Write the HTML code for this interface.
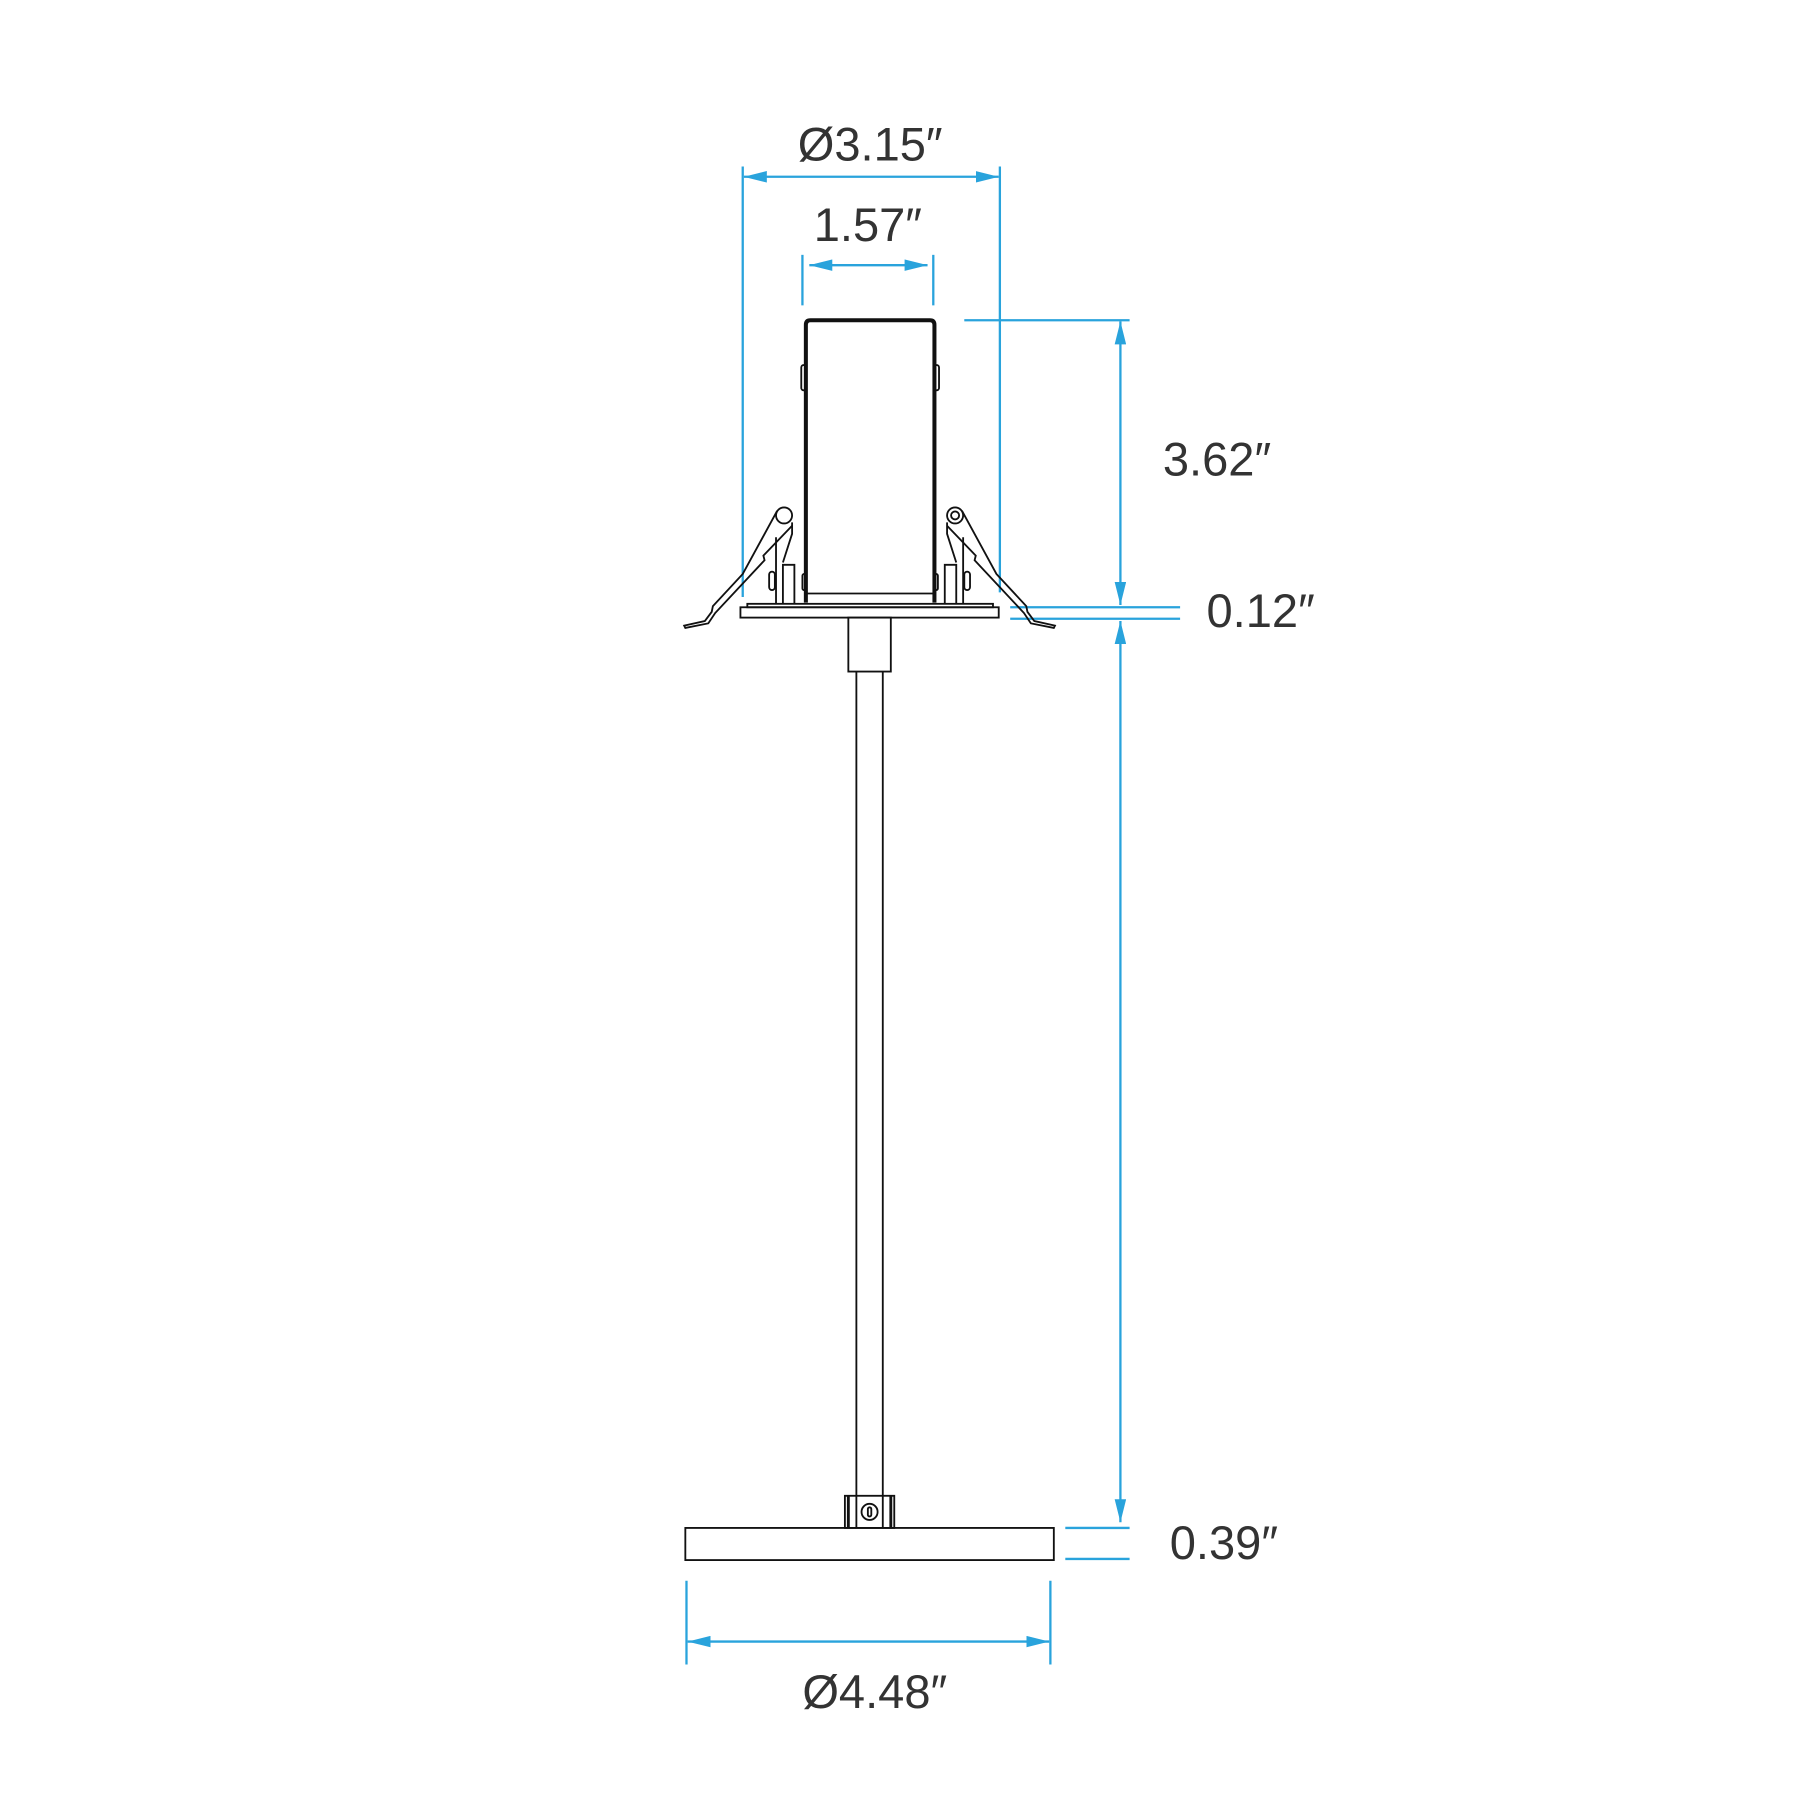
<!DOCTYPE html>
<html><head><meta charset="utf-8"><style>
html,body{margin:0;padding:0;background:#fff;}
svg{display:block;}
text{font-family:"Liberation Sans",sans-serif;font-size:41px;fill:#333;}
</style></head><body>
<svg width="1800" height="1800" viewBox="0 0 1568 1568" xmlns="http://www.w3.org/2000/svg">
<defs>
<marker id="a" viewBox="0 0 20 10" refX="20" refY="5" markerWidth="20" markerHeight="10" markerUnits="userSpaceOnUse" orient="auto-start-reverse"><path d="M0,0 L20,5 L0,10 Z" fill="#29a3dc"/></marker>
</defs>
<g stroke="#29a3dc" stroke-width="2" fill="none">
<line x1="647" y1="145" x2="647" y2="520"/>
<line x1="871" y1="145" x2="871" y2="516"/>
<line x1="648" y1="154" x2="870" y2="154" marker-start="url(#a)" marker-end="url(#a)"/>
<line x1="699" y1="222" x2="699" y2="266"/>
<line x1="813" y1="222" x2="813" y2="266"/>
<line x1="705" y1="231" x2="808" y2="231" marker-start="url(#a)" marker-end="url(#a)"/>
<line x1="840" y1="279" x2="984" y2="279"/>
<line x1="976" y1="280" x2="976" y2="527" marker-start="url(#a)" marker-end="url(#a)"/>
<line x1="880" y1="529" x2="1028" y2="529"/>
<line x1="880" y1="539" x2="1028" y2="539"/>
<line x1="976" y1="541" x2="976" y2="1326" marker-start="url(#a)" marker-end="url(#a)"/>
<line x1="928" y1="1331" x2="984" y2="1331"/>
<line x1="928" y1="1358" x2="984" y2="1358"/>
<line x1="598" y1="1377" x2="598" y2="1450"/>
<line x1="915" y1="1377" x2="915" y2="1450"/>
<line x1="599" y1="1430" x2="914" y2="1430" marker-start="url(#a)" marker-end="url(#a)"/>
</g>
<g stroke="#111" fill="none" stroke-width="1.6">
<!-- body -->
<path d="M702,525 L702,283 Q702,279 706,279 L810,279 Q814,279 814,283 L814,525" stroke-width="3.5"/>
<line x1="703" y1="517" x2="813" y2="517"/>
<rect x="698" y="318" width="4" height="22" rx="2"/>
<rect x="814" y="318" width="4" height="22" rx="2"/>
<rect x="699" y="500" width="3" height="14" rx="1.5"/>
<rect x="814" y="500" width="3" height="14" rx="1.5"/>
<!-- flange -->
<rect x="651" y="526" width="214" height="3"/>
<rect x="645" y="529" width="225" height="9"/>
<!-- left clip -->
<circle cx="683" cy="449" r="7"/>
<path d="M677,445 L647,500 L621,528 L620,533 L614,541 L596,545 L597,547 L617,543 L623,534 L666,488 L665,484 L690,458"/>
<path d="M676,468 L676,526 M682,526 L682,492 L692,492 L692,526 M690,455 L690,465 L682,490"/>
<rect x="670" y="498" width="5" height="16" rx="2.5"/>
<!-- right clip -->
<circle cx="832" cy="449" r="7"/>
<circle cx="832" cy="449" r="3.5"/>
<path d="M838,445 L868,500 L894,528 L895,533 L901,541 L919,545 L918,547 L898,543 L892,534 L849,488 L850,484 L825,458"/>
<path d="M839,468 L839,526 M833,526 L833,492 L823,492 L823,526 M825,455 L825,465 L833,490"/>
<rect x="840" y="498" width="5" height="16" rx="2.5"/>
<!-- stem -->
<rect x="739" y="538" width="37" height="47"/>
<line x1="746" y1="585" x2="746" y2="1303"/>
<line x1="769" y1="585" x2="769" y2="1303"/>
<!-- clamp -->
<rect x="736" y="1303" width="43" height="28"/>
<line x1="739" y1="1303" x2="739" y2="1331" stroke-width="2.5"/>
<line x1="776" y1="1303" x2="776" y2="1331" stroke-width="2.5"/>
<line x1="746" y1="1303" x2="746" y2="1331"/>
<line x1="769" y1="1303" x2="769" y2="1331"/>
<circle cx="757.5" cy="1317" r="7"/>
<rect x="756" y="1313" width="3" height="8" rx="1.5"/>
<!-- base plate -->
<rect x="597" y="1331" width="321" height="28"/>
</g>
<text x="758" y="140" text-anchor="middle">Ø3.15″</text>
<text x="756" y="210" text-anchor="middle">1.57″</text>
<text x="1013" y="414">3.62″</text>
<text x="1051" y="546">0.12″</text>
<text x="1019" y="1358">0.39″</text>
<text x="762" y="1488" text-anchor="middle">Ø4.48″</text>
</svg>
</body></html>
